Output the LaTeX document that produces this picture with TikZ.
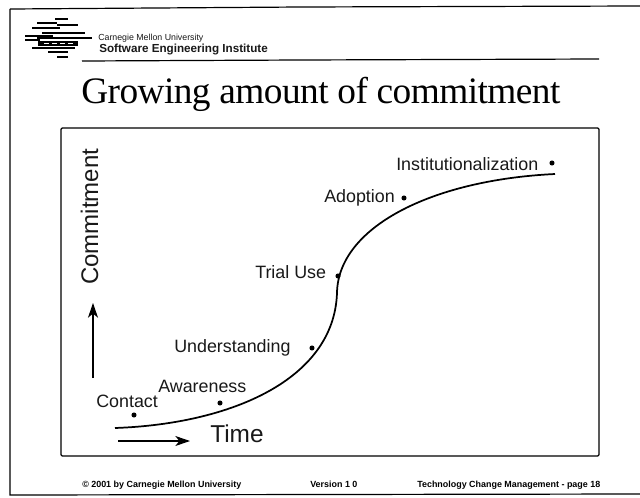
\documentclass[tikz,border=0pt]{standalone}
\usepackage{fontspec}
\usetikzlibrary{arrows.meta}
\setmainfont{Liberation Sans}
\newfontfamily\seriffont[LetterSpace=-1.5]{Liberation Serif}
\begin{document}
\begin{tikzpicture}[x=0.75pt,y=-0.75pt,
  frameline/.style={draw=black,line width=0.9pt},
  lab/.style={inner sep=0pt,anchor=base west,font=\fontsize{13.4}{15}\selectfont,text=black!90},
  dotm/.style={circle,fill=black,inner sep=0pt,minimum size=3.8pt},
  foot/.style={inner sep=0pt,anchor=base west,font=\fontsize{6.7}{8}\selectfont\bfseries},
  logob/.style={line width=1.1pt},
  axisarrow/.style={line width=0.8pt,-{Stealth[length=11pt,width=7.5pt,inset=3pt]}}]
\useasboundingbox (0,0) rectangle (640,497);
\fill[white] (0,0) rectangle (640,497);
\draw[frameline] (10,9) -- (300,7) -- (640,6);
\draw[frameline] (10,9) -- (10,495) -- (640,494);
\draw[frameline] (82,61) -- (300,60) -- (599,59);
% logo
\foreach \xa/\xb/\yy in {55/68/19, 37/57/23, 57/78/25, 32/60/28, 42/85/33, 25/53/36, 37/92/38, 25/40/40, 32/75/48, 48/68/52, 57/68/57}
  \draw[logob] (\xa,\yy) -- (\xb,\yy);
\fill[black] (38,41) rectangle (78,46);
\foreach \xa in {44,52,60,68}
  \fill[white] (\xa,43) rectangle (\xa+5,44);
\node[lab,font=\fontsize{6.6}{8}\selectfont] (cmu) at (98,40) {Carnegie Mellon University};
\node[lab,font=\fontsize{8.75}{10}\selectfont\bfseries] (sei) at (99,52.5) {Software Engineering Institute};
\node[inner sep=0pt,anchor=base west,font=\seriffont\fontsize{28}{32}\selectfont] (title) at (81,103) {Growing amount of commitment};
% inner box
\draw[frameline,rounded corners=1pt] (61,128) rectangle (599,456);
% curve
\draw[line width=1.3pt] (115,428) .. controls (230,424) and (334,380) .. (337,293)
  .. controls (338,228) and (430,180) .. (555,174);
% axes
\node[lab,rotate=90,font=\fontsize{18}{21}\selectfont] (commit) at (98,285) {Commitment};
\node[lab,font=\fontsize{18.3}{21}\selectfont] (time) at (210,442) {Time};
\coordinate (ua) at (93,378);
\coordinate (ub) at (93,303);
\coordinate (ra) at (118,441);
\coordinate (rb) at (190,441);
\draw[axisarrow] (ua) -- (ub);
\draw[axisarrow] (ra) -- (rb);
% labels
\node[lab] (l1) at (96,407) {Contact};
\node[lab] (l2) at (158,392) {Awareness};
\node[lab] (l3) at (174,352.5) {Understanding};
\node[lab] (l4) at (255,278) {Trial Use};
\node[lab] (l5) at (324,202) {Adoption};
\node[lab] (l6) at (396,170) {Institutionalization};
\node[dotm] (d1) at (134,415) {};
\node[dotm] (d2) at (220,403) {};
\node[dotm] (d3) at (312,348) {};
\node[dotm] (d4) at (338,276) {};
\node[dotm] (d5) at (404,198) {};
\node[dotm] (d6) at (552,163) {};
% footer
\node[foot] (f1) at (82,487) {© 2001 by Carnegie Mellon University};
\node[foot] (f2) at (310,487) {Version 1 0};
\node[foot] (f3) at (417,487) {Technology Change Management - page 18};
\end{tikzpicture}
\end{document}
